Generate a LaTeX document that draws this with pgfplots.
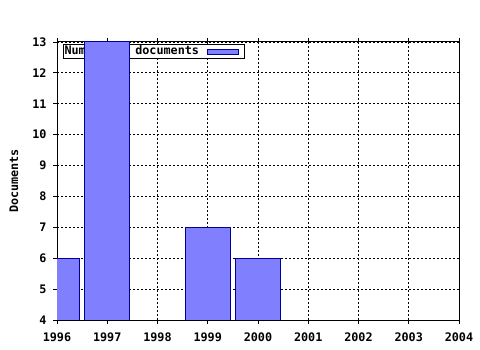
\documentclass[border=0pt]{standalone}
\usepackage{fontspec}
\usepackage{pgfplots}
\pgfplotsset{compat=1.18}
\newfontfamily\chartfont{DejaVu Sans Mono}
\definecolor{barfill}{HTML}{8080FF}
\definecolor{baredge}{HTML}{000099}
\begin{document}
\begin{tikzpicture}
\begin{axis}[
  set layers,
  clip mode=individual,
  scale only axis,
  width=402bp, height=278bp,
  xmin=1996, xmax=2004, ymin=4, ymax=13,
  xtick={1996,1997,...,2004},
  ytick={4,5,...,13},
  minor x tick num=3,
  xtick pos=both, ytick pos=left,
  tick align=outside,
  major tick length=4bp, minor tick length=2bp,
  every tick/.style={black, line width=0.8bp},
  axis line style={line width=1bp},
  grid=major,
  major grid style={black, line width=0.8bp, dash pattern=on 2bp off 2bp},
  /pgf/number format/1000 sep={},
  /pgf/number format/assume math mode=true,
  ticklabel style={font=\chartfont\bfseries\fontsize{11.8}{13}\selectfont},
  xticklabel style={yshift=-5bp, text height=8.5bp, text depth=0bp},
  yticklabel style={xshift=-3bp},
  ylabel={Documents},
  ylabel style={font=\chartfont\bfseries\fontsize{11.8}{13}\selectfont, at={(axis description cs:-0.107,0.5)}, anchor=center},
  legend plot pos=right,
  legend style={at={(axis description cs:0.015,0.99)}, anchor=north west, draw=black, line width=1bp, inner sep=0pt, outer sep=0pt,
    font=\chartfont\bfseries\fontsize{11.8}{13}\selectfont,
    nodes={inner sep=1.5bp, text height=8.5bp, text depth=2.5bp}},
  legend image code/.code={\path[draw=none,fill=none] (0bp,0bp) -- (44bp,0bp); \draw[#1, line width=1bp] (7bp,-2.5bp) rectangle (38bp,2.5bp);},
]
\addplot[ybar, bar width=0.9, bar shift=0, fill=barfill, draw=baredge, line width=1bp, on layer=axis foreground]
  coordinates {(1996,6) (1997,13) (1999,7) (2000,6)};
\addlegendentry{Number of documents}
\end{axis}
\pgfresetboundingbox
\path (-57bp,-30bp) rectangle (423bp,320bp);
\end{tikzpicture}
\end{document}
